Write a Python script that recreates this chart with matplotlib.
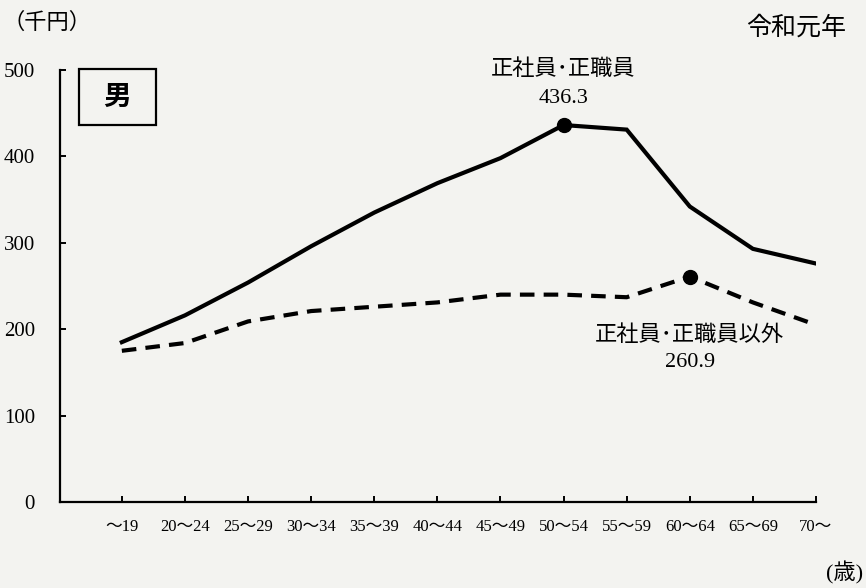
import matplotlib
matplotlib.use("Agg")
import matplotlib.pyplot as plt
from matplotlib.patches import Rectangle

plt.rcParams['font.family'] = ['Liberation Serif', 'Noto Sans CJK JP']

categories = ["〜19", "20〜24", "25〜29", "30〜34", "35〜39", "40〜44",
              "45〜49", "50〜54", "55〜59", "60〜64", "65〜69", "70〜"]
regular = [185, 216, 254, 296, 335, 369, 398, 436.3, 431, 342, 293, 276]
non_regular = [175, 184, 209, 221, 226, 231, 240, 240, 237, 260.9, 231, 205]
y_ticks = [0, 100, 200, 300, 400, 500]

bg = '#f3f3f0'
fig = plt.figure(figsize=(8.66, 5.88), dpi=100, facecolor=bg)
ax = fig.add_axes([60/866, 1-502/588, (816-60)/866, (502-70)/588])
ax.set_facecolor(bg)

x = list(range(len(categories)))
ax.plot(x, regular, color='black', lw=3.0, solid_joinstyle='miter', zorder=3)
ax.plot(x, non_regular, color='black', lw=3.0, linestyle=(0, (3.5, 2.2)), zorder=3)

i1 = regular.index(max(regular))
ax.plot([x[i1]], [regular[i1]], 'o', color='black', ms=10, zorder=4)
i2 = non_regular.index(max(non_regular))
ax.plot([x[i2]], [non_regular[i2]], 'o', color='black', ms=10, zorder=4)

ax.set_xlim(-0.98, 11)
ax.set_ylim(0, 500)
for s in ['top', 'right']:
    ax.spines[s].set_visible(False)
for s in ['left', 'bottom']:
    ax.spines[s].set_linewidth(1.6)

ax.set_xticks(x)
ax.set_xticklabels(categories, fontsize=12)
ax.set_yticks(y_ticks)
ax.set_yticklabels([str(v) for v in y_ticks], fontsize=15)
ax.tick_params(axis='both', direction='in', length=4, width=1.4)
ax.tick_params(axis='x', pad=12)
ax.tick_params(axis='y', pad=18)

jp = ['Noto Sans CJK JP', 'Liberation Serif']
ax.text(x[i1], 502, "正社員･正職員", ha='center', va='center', fontsize=16, family=jp)
ax.text(x[i1], 467, f"{regular[i1]:.1f}", ha='center', va='center', fontsize=16)
ax.text(x[i2], 194, "正社員･正職員以外", ha='center', va='center', fontsize=16, family=jp)
ax.text(x[i2], 162, f"{non_regular[i2]:.1f}", ha='center', va='center', fontsize=16)

fig.text(3/866, 1-22/588, "（千円）", ha='left', va='center', fontsize=16, family=jp)
fig.text(846/866, 1-28/588, "令和元年", ha='right', va='center', fontsize=18, family=jp)
fig.text(863/866, 1-573/588, "(歳)", ha='right', va='center', fontsize=16)

box = Rectangle((79/866, 1-125/588), 77/866, 56/588, transform=fig.transFigure,
                fill=False, edgecolor='black', lw=1.6)
fig.add_artist(box)
fig.text(117/866, 1-97/588, "男", ha='center', va='center', fontsize=20,
         fontweight='bold', family=jp)

fig.savefig("out.png", dpi=100, facecolor=bg)
